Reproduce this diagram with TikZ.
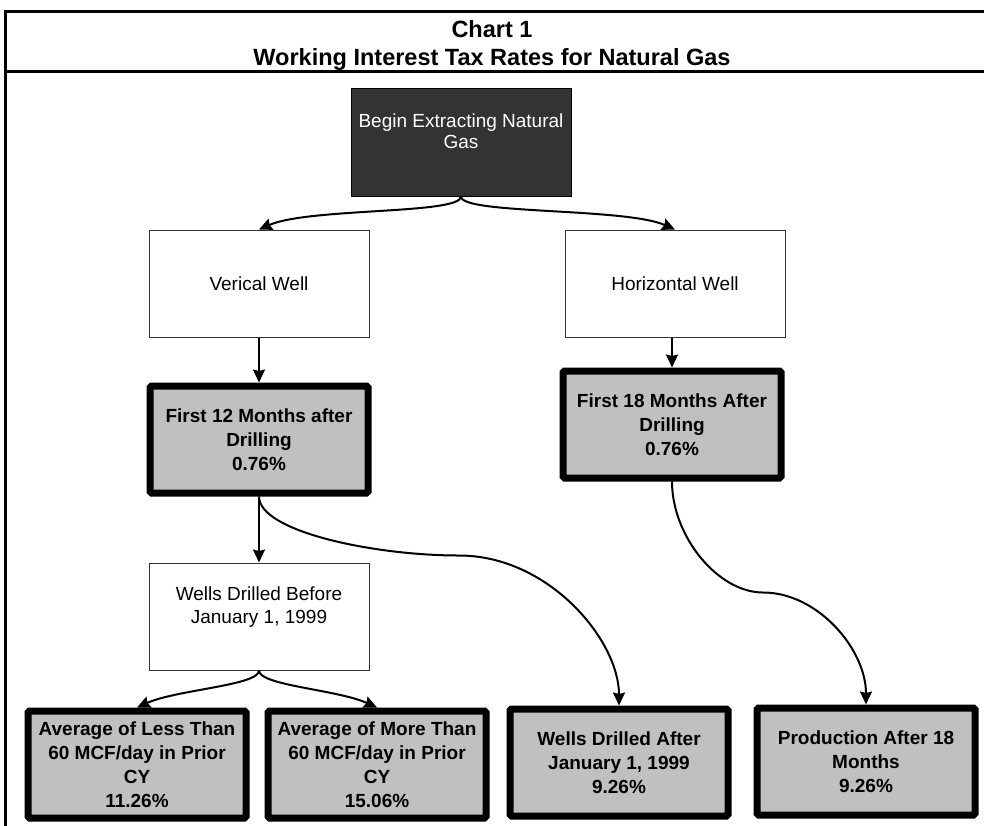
\documentclass[tikz,border=0pt]{standalone}
\usepackage{fontspec}
\setmainfont{Liberation Sans}
\usepackage{xcolor}
\usetikzlibrary{positioning}
\usetikzlibrary{calc}
\usetikzlibrary{arrows.meta}
\definecolor{startcolor}{RGB}{51, 51, 51}
\definecolor{ratecolor}{RGB}{192, 192, 192}
\tikzstyle{sbox} = [
    draw=black,
    fill=startcolor,
    text=white,
    line width=1pt,
    minimum width=220pt,
    minimum height=108pt,
    align=center,
    font=\fontsize{19}{21}\selectfont
]
\tikzstyle{wbox} = [
	draw=black!80,
	fill=white,
	line width=1pt,
	minimum width=220pt,
	minimum height=107pt,
	align=center,
	font=\fontsize{19}{22.5}\selectfont
]
\tikzstyle{rbox} = [
	draw=black,
	fill=ratecolor,
	line width=7pt,
	rounded corners=1.5pt,
	minimum width=218pt,
	minimum height=107pt,
	align=center,
	font=\bfseries\fontsize{19}{24}\selectfont
]
\tikzstyle{flow} = [
	line width=2pt,
	-{Stealth[length=13pt,width=12pt,inset=1.5pt]}
]
\tikzstyle{frame} = [
	line width=3pt
]
\tikzstyle{heading} = [
	anchor=base,
	inner sep=0pt,
	font=\bfseries\fontsize{23.5}{28}\selectfont
]

\begin{document}
\begin{tikzpicture}[x=1pt, y=1pt]
	\useasboundingbox (0,0) rectangle (984,-825);
	
	%
	% Frame and heading
	\draw[frame] (5,-830) -- (5,-11) -- (990,-11);
	\draw[frame] (5,-71) -- (990,-71);
	\node[heading] (chart) at (492,-37) {Chart 1};
	\node[heading] (title) at (492,-65) {Working Interest Tax Rates for Natural Gas};
	
	%
	% Well types
	\node[sbox] (begin) at (461,-142) {Begin Extracting Natural\\Gas\\\mbox{}};
	\node[wbox, below=33pt of begin, xshift=-202pt] (vert) {Verical Well};
	\node[wbox, below=33pt of begin, xshift=214pt] (horiz) {Horizontal Well};
	
	%
	% First months
	\node[rbox, below=45pt of vert] (first12) {First 12 Months after\\Drilling\\0.76\%};
	\node[rbox, below=30pt of horiz, xshift=-3pt] (first18) {First 18 Months After\\Drilling\\0.76\%};
	\node[wbox, below=66pt of first12] (before) {Wells Drilled Before\\January 1, 1999\\\mbox{}};
	
	%
	% Later rates
	\node[rbox, below=37pt of before, xshift=-122pt] (less) {Average of Less Than\\60 MCF/day in Prior\\CY\\11.26\%};
	\node[rbox, below=37pt of before, xshift=118pt] (more) {Average of More Than\\60 MCF/day in Prior\\CY\\15.06\%};
	\node[rbox, right=17pt of more, yshift=2pt] (after) {Wells Drilled After\\January 1, 1999\\9.26\%};
	\node[rbox, right=22pt of after, yshift=1pt] (prod) {Production After 18\\Months\\9.26\%};
	
	\coordinate (bend1) at ($(first12.south)+(200,-59)$);
	\coordinate (bend2) at ($(first18.south)+(91,-111)$);
	
	%
	% Connectors
	\draw[flow] (begin.south) .. controls +(0,-18) and +(50,22) .. (vert.north);
	\draw[flow] (begin.south) .. controls +(0,-18) and +(-50,22) .. (horiz.north);
	\draw[flow] (vert.south) -- (first12.north);
	\draw[flow] (first18.north |- horiz.south) -- (first18.north);
	\draw[flow] (first12.south) -- (before.north);
	\draw[flow] (before.south) .. controls +(0,-15) and +(40,18) .. (less.north);
	\draw[flow] (before.south) .. controls +(0,-15) and +(-40,18) .. (more.north);
	\draw[flow] (first12.south) .. controls +(0,-35) and +(-85,0) .. (bend1) .. controls +(90,0) and +(0,65) .. (after.north);
	\draw[flow] (first18.south) .. controls +(0,-55) and +(-45,0) .. (bend2) .. controls +(55,0) and +(0,55) .. (prod.north);
	
\end{tikzpicture}
\end{document}
